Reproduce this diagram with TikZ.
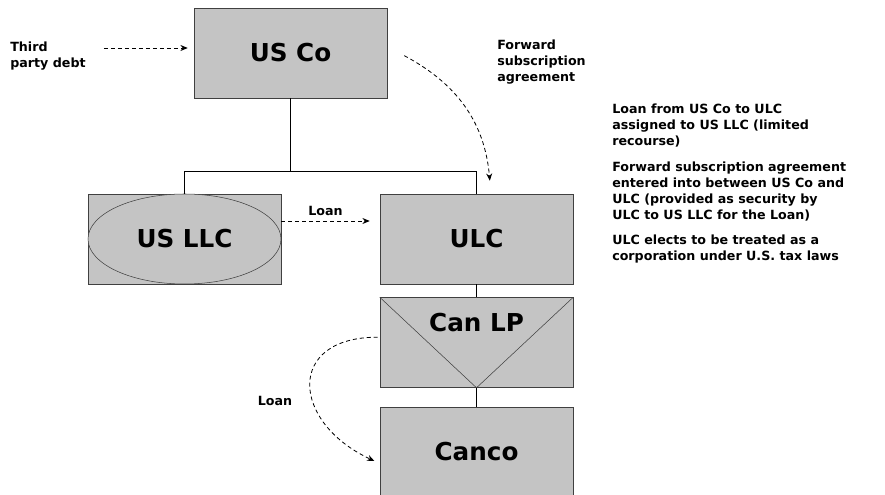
\documentclass[tikz,border=0pt]{standalone}
\usepackage{fontspec}
\setmainfont{DejaVu Sans}
\usetikzlibrary{shapes.geometric, arrows.meta}
\definecolor{boxgray}{RGB}{196,196,196}
\definecolor{edgegray}{RGB}{64,64,64}

\begin{document}
\begin{tikzpicture}[x=0.75pt, y=-0.75pt,
    entity/.style={draw=edgegray, fill=boxgray, minimum width=144.75pt, minimum height=67.5pt, inner sep=0pt},
    bigtext/.style={font=\bfseries\fontsize{18.5}{22}\selectfont},
    smalltext/.style={font=\bfseries\fontsize{9.5}{12}\selectfont, align=left, inner sep=0pt},
    flow/.style={-{Stealth[length=5.5pt, width=4.5pt]}, dash pattern=on 3pt off 2.25pt, semithick}]

    \useasboundingbox (0, 0) rectangle (885, 495);

    % entities
    \node [entity, bigtext] (usco) at (290.5, 53) {US Co};
    \node [entity] (usllc) at (184.5, 239) {};
    \node [draw=edgegray, fill=boxgray, ellipse, minimum width=144.75pt, minimum height=67.5pt, inner sep=0pt, bigtext] (usllcoval) at (usllc.center) {US LLC};
    \node [entity, bigtext] (ulc) at (476.5, 239) {ULC};
    \node [entity] (canlp) at (476.5, 342.5) {};
    \draw [edgegray] (canlp.north west) -- (canlp.south) -- (canlp.north east);
    \node [bigtext, inner sep=0pt] (canlptext) at (476.5, 323) {Can LP};
    \node [entity, bigtext] (canco) at (476.5, 452) {Canco};

    % ownership lines
    \path (usco.south) ++(0, 73) coordinate (bar);
    \draw (usco.south) -- (bar);
    \draw (usllc.north) |- (bar) -| (ulc.north);
    \draw (ulc.south) -- (canlp.north);
    \draw (canlp.south) -- (canco.north);

    % labels
    \node [smalltext, anchor=west] (debt) at (10, 56) {Third\\party debt};
    \node [smalltext, anchor=north west] (fwd) at (497, 40) {Forward\\subscription\\agreement};
    \node [smalltext, anchor=north west] (notes) at (612, 104)
        {Loan from US Co to ULC\\assigned to US LLC (limited\\recourse)\\[7pt]
         Forward subscription agreement\\entered into between US Co and\\ULC (provided as security by\\ULC to US LLC for the Loan)\\[7pt]
         ULC elects to be treated as a\\corporation under U.S. tax laws};

    % flows
    \draw [flow] ([xshift=13.5pt, yshift=6pt]debt.east) -- ([xshift=-4.5pt, yshift=3.75pt]usco.west);
    \draw [flow] ([xshift=12.75pt, yshift=-2pt]usco.east) to [out=-28, in=95] ([xshift=10pt, yshift=9.75pt]ulc.north);
    \draw [flow] ([yshift=13.5pt]usllc.east) -- ([xshift=-7.5pt, yshift=13.5pt]ulc.west)
        node [midway, above, smalltext, yshift=3.5pt] (loanA) {Loan};
    \draw [flow] ([xshift=-1.5pt, yshift=4pt]canlp.west) to [out=180, in=155, looseness=1.9] ([xshift=-4pt, yshift=-6.75pt]canco.west);
    \node [smalltext] (loanB) at (275, 401) {Loan};

\end{tikzpicture}
\end{document}
